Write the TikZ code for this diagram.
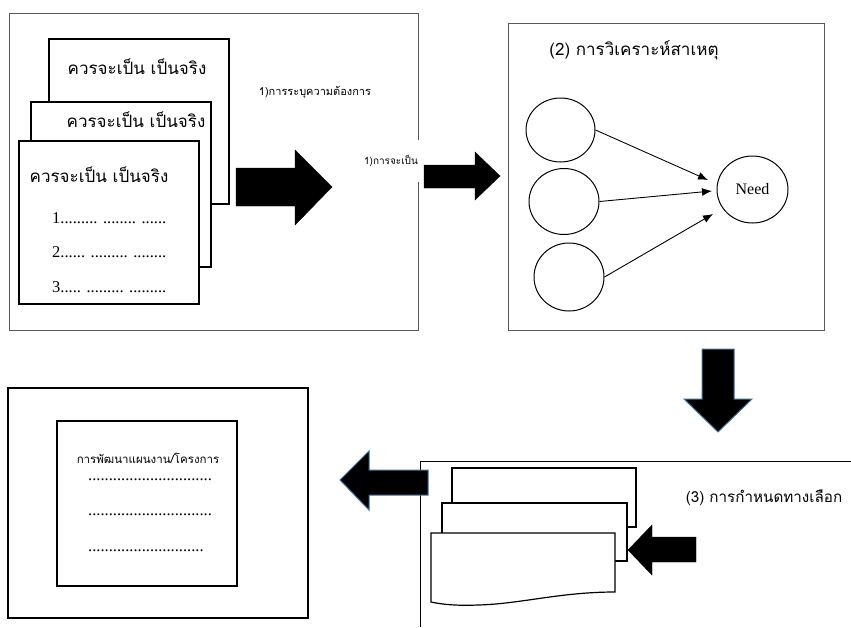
\documentclass[tikz,border=0pt]{standalone}
\usepackage{fontspec}
\setmainfont{Liberation Serif}
\newfontfamily\thaifont[Script=Thai]{Loma}
\usetikzlibrary{shapes.geometric,arrows.meta}
\definecolor{wordblue}{HTML}{41719C}
\tikzset{
  frame/.style={draw=black!65,line width=0.9pt},
  paper/.style={draw=black,line width=1.2pt,fill=white},
  cause/.style={draw=black,line width=1pt,ellipse,minimum width=70pt,minimum height=66pt},
  blockarrow/.style={fill=black},
  wordarrow/.style={fill=black,draw=wordblue,line width=1pt},
  link/.style={-{Latex[length=10pt,width=8pt]},line width=0.9pt},
  thaitext/.style={font=\thaifont\fontsize{#1}{#1}\selectfont,inner sep=1pt},
  serifline/.style={font=\fontsize{16.5}{16.5}\selectfont,anchor=west,inner sep=0pt},
  dotline/.style={font=\fontsize{16.5}{16.5}\selectfont,anchor=base west,inner sep=0pt,text height=2pt,text depth=0pt}
}
\begin{document}
\begin{tikzpicture}[x=1pt,y=-1pt]
 \useasboundingbox (0,0) rectangle (851,627);
 \draw[frame](9,13) rectangle (418,330);
 \draw[paper](49,39) rectangle (229,204);
 \draw[paper](31,102) rectangle (211,267);
 \draw[paper](19,141) rectangle (199,304);
 \node[thaitext=17] (back) at (137,67) {ควรจะเป็น เป็นจริง};
 \node[thaitext=17] (mid) at (136,120) {ควรจะเป็น เป็นจริง};
 \node[thaitext=17] (front) at (99,175) {ควรจะเป็น เป็นจริง};
 \node[serifline] (item1) at (52,218) {1......... ........ ......};
 \node[serifline] (item2) at (52,252) {2...... ......... ........};
 \node[serifline] (item3) at (52,287) {3..... ......... .........};
 \node[thaitext=11] (ident) at (315,92) {1)การระบุความต้องการ};
 \node[thaitext=10,fill=white,minimum height=42pt,inner xsep=3pt] (must) at (391,161) {1)การจะเป็น};
 \draw[blockarrow](236,168)--(295,168)--(295,150)--(332,187)--(295,225)--(295,206)--(236,206)--cycle;
 \draw[blockarrow](424,165)--(475,165)--(475,152)--(500,176)--(475,200)--(475,188)--(424,188)--cycle;
 \draw[frame](508,23) rectangle (824,330);
 \node[thaitext=17] (analysis) at (634,50) {(2) การวิเคราะห์สาเหตุ};
 \node[cause,minimum width=69pt,minimum height=64pt] (c1) at (560.5,130) {};
 \node[cause] (c2) at (564,201.5) {};
 \node[cause,minimum height=68pt] (c3) at (569,277) {};
 \node[cause,minimum width=71pt,minimum height=67pt,font=\fontsize{16}{16}\selectfont] (need) at (752.5,189.5) {Need};
 \coordinate (n1) at (708,180);
 \coordinate (n2) at (712,191);
 \coordinate (n3) at (713,214);
 \draw[link](c1.east)--(n1);
 \draw[link](c2.east)--(n2);
 \draw[link](c3.east)--(n3);
 \draw[wordarrow](702,349)--(734,349)--(734,399)--(752,399)--(718,432)--(684,399)--(702,399)--cycle;
 \draw[black,line width=0.9pt](851,461)--(420,461)--(420,627);
 \draw[paper](452,468) rectangle (636,527);
 \draw[paper](442,503) rectangle (627,561);
 \draw[paper](431,533)--(615,533)--(615,592) .. controls (560,592) and (520,604) .. (478,605) .. controls (455,606) and (440,604) .. (431,602)--cycle;
 \node[thaitext=15.2] (choice) at (764,498) {(3) การกำหนดทางเลือก};
 \draw[blockarrow](696,537)--(652,537)--(652,525)--(628,550)--(652,575)--(652,562)--(696,562)--cycle;
 \draw[wordarrow](428,470)--(369,470)--(369,451)--(340,480)--(369,510)--(369,495)--(428,495)--cycle;
 \draw[paper](8,388) rectangle (308,618);
 \draw[paper](57,421) rectangle (237,586);
 \node[thaitext=11.5,anchor=base,text depth=0pt,inner sep=0pt] (plan) at (148,463) {การพัฒนาแผนงาน/โครงการ};
 \node[dotline] (dots1) at (88,480) {..............................};
 \node[dotline] (dots2) at (88,515) {..............................};
 \node[dotline] (dots3) at (88,551) {............................};
\end{tikzpicture}
\end{document}
